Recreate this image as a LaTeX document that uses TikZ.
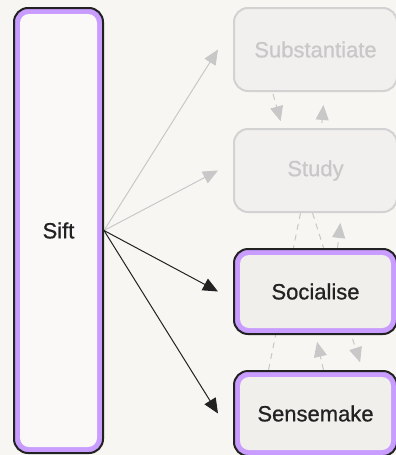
\documentclass[tikz,border=0pt]{standalone}
\usepackage{fontspec}
\setmainfont{Liberation Sans}
\newfontfamily\stagefont{Liberation Sans}[FakeBold=0.8]
\usepackage{tikz}
\usetikzlibrary{positioning, calc, shapes, arrows.meta}
\definecolor{paper}{HTML}{F7F6F3}
\definecolor{ink}{HTML}{222222}
\definecolor{lilac}{HTML}{C99CFF}
\definecolor{boxfill}{HTML}{F0EFEC}
\definecolor{siftfill}{HTML}{FAF9F7}
\definecolor{mute}{HTML}{C8C8C8}
\definecolor{muteline}{HTML}{D2D2D2}
\definecolor{mutefill}{HTML}{F1F0EE}
\pgfdeclarelayer{background}
\pgfdeclarelayer{edges}
\pgfsetlayers{background,edges,main}
\tikzstyle{Link} = [
%Solid link out of the sift box:
line width = 1pt,
-{Triangle[length=15pt, width=13pt]}
]
\tikzstyle{Back} = [
%Dashed link between the stages:
line width = 1pt, draw = mute, dash pattern = on 6pt off 5pt,
-{Triangle[length=15pt, width=13pt]}
]

\begin{document}
\begin{tikzpicture}[
		x = 1pt, y = -1pt,
		every node/.style = {font = \stagefont\fontsize{22}{26}\selectfont},
		activebox/.style = {rectangle, rounded corners = 14pt, draw = ink, line width = 2pt, fill = lilac, text = ink, inner sep = 0pt,
			path picture = {\fill[#1, rounded corners = 9pt] ([shift = {(6pt,6pt)}]path picture bounding box.south west) rectangle ([shift = {(-6pt,-6pt)}]path picture bounding box.north east);}},
		activebox/.default = boxfill,
		mutebox/.style = {rectangle, rounded corners = 14pt, draw = muteline, line width = 2pt, fill = mutefill, text = mute, inner sep = 0pt},
	]
	\useasboundingbox (0,0) rectangle (396,455);
	\begin{pgfonlayer}{background}
		\fill[paper] (0,0) rectangle (396,455);
	\end{pgfonlayer}

	\node[activebox = siftfill, minimum width = 89pt, minimum height = 445pt](sift) at (58.5,230.5){Sift};
	\node[mutebox, minimum width = 163pt, minimum height = 83pt](subst) at (315.5,49.5){Substantiate};
	\node[mutebox, minimum width = 163pt, minimum height = 83pt](study) at (315.5,170.5){Study};
	\node[activebox, minimum width = 163pt, minimum height = 85pt](soc) at (315.5,291.5){Socialise};
	\node[activebox, minimum width = 163pt, minimum height = 85pt](sense) at (315.5,413.5){Sensemake};

	\begin{pgfonlayer}{edges}
		\draw[Link, draw = mute, -{Triangle[length=15pt, width=13pt, fill=mute]}](sift.east)--([xshift = -15pt]subst.west);
		\draw[Link, draw = mute, -{Triangle[length=15pt, width=13pt, fill=mute]}](sift.east)--([xshift = -15pt]study.west);
		\draw[Link, draw = ink](sift.east)--([xshift = -15pt]soc.west);
		\draw[Link, draw = ink](sift.east)--([xshift = -15pt]sense.west);

		\draw[Back, shorten <= 2pt, shorten >= 7pt]([xshift = -43pt]subst.south)--([xshift = -33pt]study.north);
		\draw[Back, shorten <= 5pt, shorten >= 13pt]([xshift = 6pt]study.north)--([xshift = 9pt]subst.south);
		\draw[Back, -]([xshift = -15pt]study.south)--([xshift = -47pt]sense.north);
		\draw[Back, shorten >= 8pt]([xshift = -3pt]study.south)--([xshift = 47pt]sense.north);
		\draw[Back, shorten >= 10pt]([xshift = 22pt]soc.north)--([xshift = 26pt]study.south);
		\draw[Back, shorten >= 7pt]([xshift = 8pt]sense.north)--(soc.south);
	\end{pgfonlayer}
\end{tikzpicture}
\end{document}
